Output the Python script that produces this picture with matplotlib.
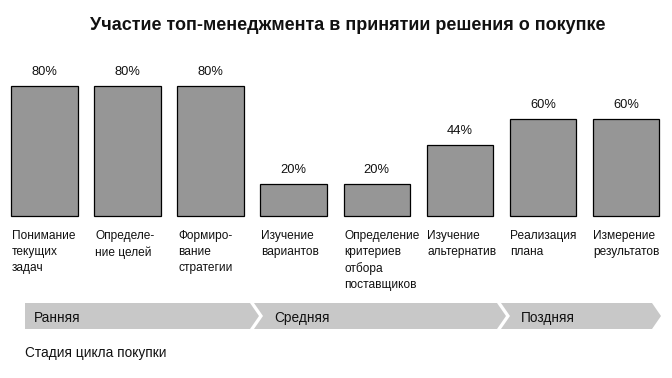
import matplotlib
matplotlib.use("Agg")
import matplotlib.pyplot as plt
from matplotlib.patches import Polygon

title = "Участие топ-менеджмента в принятии решения о покупке"
categories = ["Понимание\nтекущих\nзадач", "Определе-\nние целей", "Формиро-\nвание\nстратегии",
              "Изучение\nвариантов", "Определение\nкритериев\nотбора\nпоставщиков",
              "Изучение\nальтернатив", "Реализация\nплана", "Измерение\nрезультатов"]
values = [80, 80, 80, 20, 20, 44, 60, 60]
stages = ["Ранняя", "Средняя", "Поздняя"]
footer = "Стадия цикла покупки"

W, H, DPI = 672, 378, 100
fig = plt.figure(figsize=(W / DPI, H / DPI), dpi=DPI)
fig.patch.set_facecolor("white")

regular = ["Liberation Sans", "DejaVu Sans"]
narrow = ["Liberation Sans Narrow", "Liberation Sans", "DejaVu Sans"]

# data axes spanning the full figure
ax = fig.add_axes([0, 0, 1, 1])
step = 83.07
x0 = 44.5
ax.set_xlim(-x0 / step, (W - x0) / step)
ppv = 1.625
base = 216
ax.set_ylim(-(H - base) / ppv, base / ppv)
ax.axis("off")

xs = list(range(len(values)))
bars = ax.bar(xs, values, width=0.8, color="#969696", edgecolor="black", linewidth=0.9)
for b, v in zip(bars, values):
    ax.annotate(f"{v}%", (b.get_x() + b.get_width() / 2, v), xytext=(0, 10),
                textcoords="offset points", ha="center", va="center",
                fontsize=9.3, family=regular, color="#111111")
for b, lab in zip(bars, categories):
    ax.annotate(lab, (b.get_x(), 0), xytext=(0.5, -10), textcoords="offset points",
                ha="left", va="top", fontsize=8.6, family=regular, color="#111111",
                linespacing=1.45)

# decoration axes in pixel coordinates
dx = fig.add_axes([0, 0, 1, 1], facecolor="none")
dx.set_xlim(0, W)
dx.set_ylim(H, 0)
dx.axis("off")

top, bot = 303, 329
mid = (top + bot) / 2
d = 9
segs = [(25, 250, False), (254, 497, True), (501, 652, True)]
for (l, r, notch), name in zip(segs, stages):
    pts = [(l, top), (r, top), (r + d, mid), (r, bot), (l, bot)]
    if notch:
        pts.append((l + d, mid))
    dx.add_patch(Polygon(pts, closed=True, facecolor="#c8c8c8", edgecolor="none"))
    dx.text(l + (9 if not notch else 20), 322, name, ha="left", va="baseline",
            fontsize=9.8, family=narrow, color="#111111")

dx.text(25, 357, footer, ha="left", va="baseline", fontsize=9.8, family=narrow, color="#111111")
dx.text(348, 25, title, ha="center", va="center", fontsize=13, family=narrow,
        fontweight="bold", color="#111111")

fig.savefig("out.png", dpi=DPI, facecolor="white")
